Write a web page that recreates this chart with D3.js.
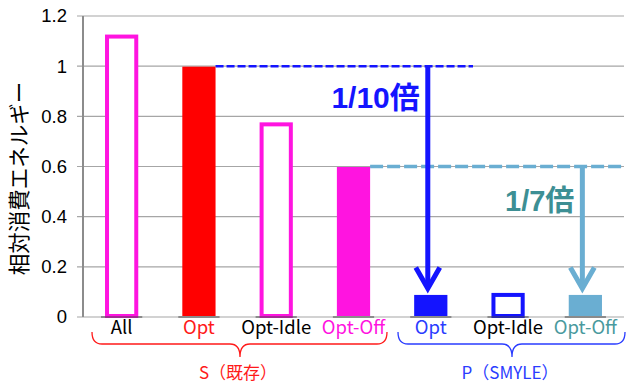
<!DOCTYPE html>
<html>
<head>
<meta charset="utf-8">
<script src="https://cdn.jsdelivr.net/npm/d3@7"></script>
<style>
  body { margin: 0; background: #fff; }
  text { font-family: "Liberation Sans", "Noto Sans CJK JP", sans-serif; }
</style>
</head>
<body>
<svg id="chart" width="627" height="385"></svg>
<script>
// categories and values
const categories = ["All", "Opt", "Opt-Idle", "Opt-Off", "Opt", "Opt-Idle", "Opt-Off"];
const groups = ["S", "S", "S", "S", "P", "P", "P"];
const energy = [1.12, 1.0, 0.77, 0.6, 0.09, 0.09, 0.09];
const yTicks = [0, 0.2, 0.4, 0.6, 0.8, 1, 1.2];
const groupLabels = [
  { name: "S（既存）", from: 0, to: 3, color: "#ff1a1a" },
  { name: "P（SMYLE）", from: 4, to: 6, color: "#2a3cff" }
];
const ratioNotes = [
  { text: "1/10倍", from: 1, to: 4, color: "#1414ff" },
  { text: "1/7倍", from: 3, to: 6, color: "#3d8f94" }
];

const fills = ["#fff", "#ff0000", "#fff", "#ff14e0", "#1414ff", "#fff", "#6aaed2"];
const strokes = ["#ff14e0", "#ff0000", "#ff14e0", "#ff14e0", "#1414ff", "#1414ff", "#6aaed2"];
const labelColors = ["#000", "#ff1a1a", "#000", "#ff14e0", "#2a3cff", "#000", "#4a9a9e"];

const svg = d3.select("#chart");
const margin = { left: 83, right: 3, top: 16, bottom: 68 };
const W = 627, H = 385;

const x = d3.scaleBand()
  .domain(d3.range(categories.length))
  .range([margin.left, W - margin.right])
  .paddingInner(0.57)
  .paddingOuter(0.285);
const y = d3.scaleLinear().domain([0, 1.2]).range([H - margin.bottom, margin.top]);

// gridlines
svg.append("g")
  .selectAll("line")
  .data(yTicks)
  .join("line")
  .attr("x1", margin.left - 6)
  .attr("x2", W - margin.right)
  .attr("y1", d => y(d))
  .attr("y2", d => y(d))
  .attr("stroke", "#a6a6a6")
  .attr("stroke-width", 1.2);

// y axis
const yAxis = d3.axisLeft(y)
  .tickValues(yTicks)
  .tickFormat(d => d3.format("")(d))
  .tickSize(0)
  .tickPadding(16);
const ya = svg.append("g").attr("transform", `translate(${margin.left},0)`).call(yAxis);
ya.select(".domain").remove();
ya.selectAll("text")
  .attr("font-size", 18.5)
  .attr("fill", "#000")
  .style("font-family", "Liberation Sans, sans-serif");
svg.append("line")
  .attr("x1", margin.left).attr("x2", margin.left)
  .attr("y1", margin.top).attr("y2", y(0))
  .attr("stroke", "#8c8c8c").attr("stroke-width", 2);

svg.append("text")
  .attr("transform", `translate(27,${(y(0) + y(1.2)) / 2 + 12}) rotate(-90)`)
  .attr("text-anchor", "middle")
  .attr("font-size", 21.5)
  .style("font-family", "Noto Sans CJK JP, sans-serif")
  .text("相対消費エネルギー");

// dashed reference lines
svg.append("line")
  .attr("x1", x(1) + x.bandwidth()).attr("x2", 473)
  .attr("y1", y(energy[1])).attr("y2", y(energy[1]))
  .attr("stroke", "#1414ff").attr("stroke-width", 2.5)
  .attr("stroke-dasharray", "8,3");
svg.append("line")
  .attr("x1", x(3) + x.bandwidth()).attr("x2", W - margin.right)
  .attr("y1", y(energy[3])).attr("y2", y(energy[3]))
  .attr("stroke", "#6aaed2").attr("stroke-width", 3.5)
  .attr("stroke-dasharray", "13,4");

// bars
const bw = x.bandwidth();
svg.append("g")
  .selectAll("rect")
  .data(energy)
  .join("rect")
  .attr("x", (d, i) => x(i) + (fills[i] === "#fff" ? 2 : 0))
  .attr("y", d => y(d) + 0.5)
  .attr("width", (d, i) => bw - (fills[i] === "#fff" ? 4 : 0))
  .attr("height", d => y(0) - y(d) - 1.5)
  .attr("fill", (d, i) => fills[i])
  .attr("stroke", (d, i) => fills[i] === "#fff" ? strokes[i] : "none")
  .attr("stroke-width", 4);

// small dark caps at bar ends
svg.append("g")
  .selectAll("line")
  .data(energy)
  .join("line")
  .attr("x1", (d, i) => x(i) - 4)
  .attr("x2", (d, i) => x(i) + bw + 4)
  .attr("y1", y(0)).attr("y2", y(0))
  .attr("stroke", "#444").attr("stroke-width", 1.2);

// arrows
ratioNotes.forEach(n => {
  const ax = x(n.to) + bw / 2 - 3;
  const top = y(energy[n.from]);
  const tip = y(energy[n.to]) - 6;
  const color = n.from === 1 ? "#1414ff" : "#6aaed2";
  svg.append("line")
    .attr("x1", ax).attr("x2", ax)
    .attr("y1", top).attr("y2", tip - 2)
    .attr("stroke", color).attr("stroke-width", 5);
  svg.append("path")
    .attr("d", `M${ax - 12},${tip - 21} L${ax},${tip} L${ax + 12},${tip - 21}`)
    .attr("fill", "none")
    .attr("stroke", color)
    .attr("stroke-width", 5)
    .attr("stroke-linejoin", "miter");
  svg.append("text")
    .attr("x", ax - 8)
    .attr("y", n.from === 1 ? 108 : 211)
    .attr("text-anchor", "end")
    .attr("font-size", n.from === 1 ? 30 : 29)
    .attr("font-weight", "bold")
    .attr("fill", n.color)
    .text(n.text);
});

// category labels
svg.append("g")
  .selectAll("text")
  .data(categories)
  .join("text")
  .attr("x", (d, i) => x(i) + bw / 2)
  .attr("y", y(0) + 17)
  .attr("text-anchor", "middle")
  .attr("font-size", 18.5)
  .attr("fill", (d, i) => labelColors[i])
  .style("font-family", "Noto Sans CJK JP, sans-serif")
  .text(d => d);

// braces and group labels
function brace(x1, x2, mid, y0, y1, y2) {
  const r = 10;
  return `M${x1},${y0} Q${x1},${y1} ${x1 + r},${y1} L${mid - r},${y1} Q${mid},${y1} ${mid},${y2}` +
    ` Q${mid},${y1} ${mid + r},${y1} L${x2 - r},${y1} Q${x2},${y1} ${x2},${y0}`;
}
const braceX = [[92, 387], [398, 625]];
groupLabels.forEach((g, k) => {
  const [x1, x2] = braceX[k];
  const mid = k === 0 ? 240 : 512;
  svg.append("path")
    .attr("d", brace(x1, x2, mid, 332, 344, 357))
    .attr("fill", "none")
    .attr("stroke", g.color)
    .attr("stroke-width", 1.3);
  svg.append("text")
    .attr("x", mid - 2)
    .attr("y", 379)
    .attr("text-anchor", "middle")
    .attr("font-size", 17)
    .attr("fill", g.color)
    .style("font-family", "Noto Sans CJK JP, sans-serif")
    .text(g.name);
});
</script>
</body>
</html>
